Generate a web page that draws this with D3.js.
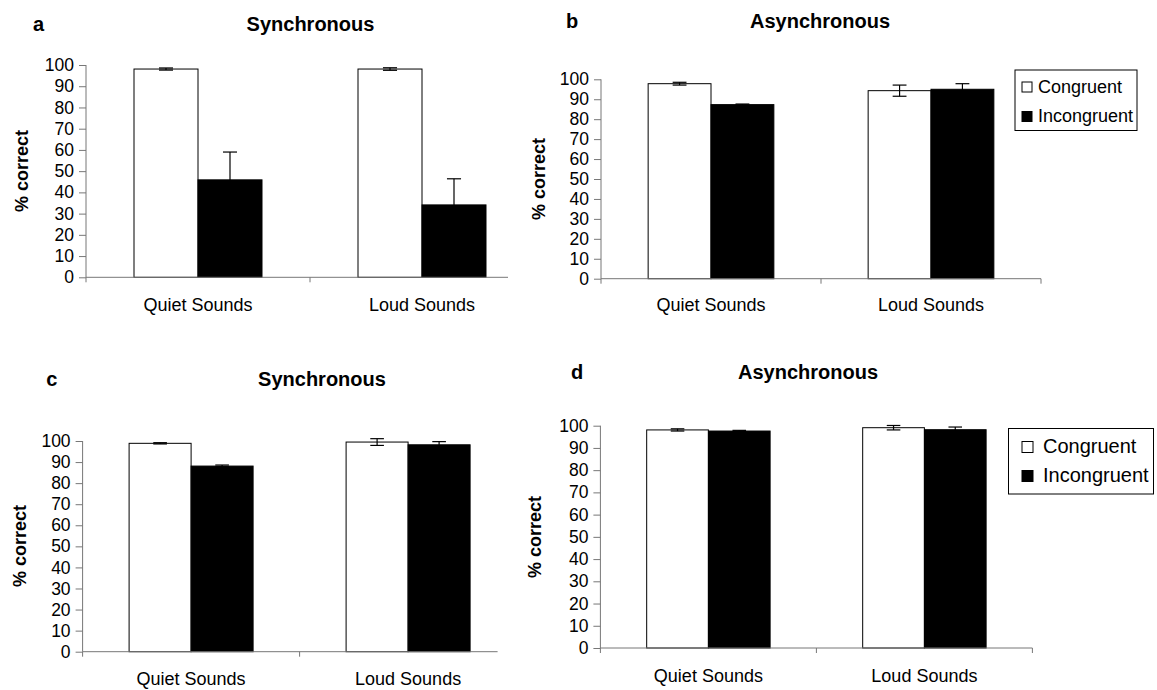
<!DOCTYPE html>
<html>
<head>
<meta charset="utf-8">
<script src="https://cdn.jsdelivr.net/npm/d3@7"></script>
<style>
  html, body { margin: 0; padding: 0; background: #fff; }
  svg { display: block; font-family: "Liberation Sans", Arial, sans-serif; }
</style>
</head>
<body>
<svg id="fig" width="1157" height="690"></svg>
<script>
// ---- data ----
const categories = ["Quiet Sounds", "Loud Sounds"];
const seriesNames = ["Congruent", "Incongruent"];
const yTickValues = [0, 10, 20, 30, 40, 50, 60, 70, 80, 90, 100];
const panelLetters = ["a", "b", "c", "d"];
const panelTitles = ["Synchronous", "Asynchronous", "Synchronous", "Asynchronous"];
const yAxisLabel = "% correct";

// mean % correct per category, and error half-widths
const aCongruent = [98.1, 98.1];
const aCongruentErr = [0.5, 0.6];
const aIncongruent = [45.9, 34.1];
const aIncongruentErr = [13.1, 12.3];

const bCongruent = [97.8, 94.3];
const bCongruentErr = [0.7, 2.8];
const bIncongruent = [87.3, 95.0];
const bIncongruentErr = [0.3, 2.8];

const cCongruent = [98.9, 99.5];
const cCongruentErr = [0.3, 1.6];
const cIncongruent = [88.1, 98.2];
const cIncongruentErr = [0.5, 1.5];

const dCongruent = [98.1, 99.1];
const dCongruentErr = [0.5, 1.0];
const dIncongruent = [97.6, 98.2];
const dIncongruentErr = [0.3, 1.2];

// ---- layout of the four panels ----
const panels = [
  { letter: panelLetters[0], title: panelTitles[0],
    values: [aCongruent, aIncongruent], errs: [aCongruentErr, aIncongruentErr],
    x0: 86, band: 224, axisEnd: 508, endTick: false, yBottom: 277.3, yTop: 65,
    titleX: 310.5, titleY: 31, letterX: 38.6, ylabX: 28, ylabY: 171, xlabY: 311, legend: null },
  { letter: panelLetters[1], title: panelTitles[1],
    values: [bCongruent, bIncongruent], errs: [bCongruentErr, bIncongruentErr],
    x0: 601, band: 220, axisEnd: 1041, endTick: true, yBottom: 278.7, yTop: 79.3,
    titleX: 820, titleY: 28, letterX: 572, ylabX: 545, ylabY: 179, xlabY: 311,
    legend: { x: 1015, y: 70, w: 122, h: 60.5, sq: 10, sqX: 1022, textX: 1038, rows: [92.5, 122], font: 18 } },
  { letter: panelLetters[2], title: panelTitles[2],
    values: [cCongruent, cIncongruent], errs: [cCongruentErr, cIncongruentErr],
    x0: 82.6, band: 217, axisEnd: 497.6, endTick: false, yBottom: 651.7, yTop: 441,
    titleX: 322, titleY: 386, letterX: 51.7, ylabX: 25.5, ylabY: 546, xlabY: 684.5, legend: null },
  { letter: panelLetters[3], title: panelTitles[3],
    values: [dCongruent, dIncongruent], errs: [dCongruentErr, dIncongruentErr],
    x0: 600.4, band: 216, axisEnd: 1032.4, endTick: true, yBottom: 648, yTop: 425.7,
    titleX: 808, titleY: 379, letterX: 577, ylabX: 541, ylabY: 537, xlabY: 681.5,
    legend: { x: 1008.5, y: 428.5, w: 145, h: 65.5, sq: 11, sqX: 1022, textX: 1043, rows: [453, 482], font: 20 } }
];

const fills = ["#ffffff", "#000000"];
const svg = d3.select("#fig");

panels.forEach(p => {
  const g = svg.append("g");

  const x = d3.scaleBand().domain(categories)
    .range([p.x0, p.x0 + 2 * p.band]).paddingInner(0).paddingOuter(0);
  const xs = d3.scaleBand().domain(seriesNames)
    .range([0, x.bandwidth()]).paddingInner(0).paddingOuter(0.75);
  const y = d3.scaleLinear().domain([0, 100]).range([p.yBottom, p.yTop]);

  // bars
  seriesNames.forEach((s, si) => {
    g.selectAll(null).data(categories).enter().append("rect")
      .attr("x", c => x(c) + xs(s))
      .attr("y", (c, ci) => y(p.values[si][ci]))
      .attr("width", xs.bandwidth())
      .attr("height", (c, ci) => y(0) - y(p.values[si][ci]))
      .attr("fill", fills[si])
      .attr("stroke", "#000")
      .attr("stroke-width", 1);
  });

  // error bars
  const cap = xs.bandwidth() * 0.11;
  seriesNames.forEach((s, si) => {
    categories.forEach((c, ci) => {
      const cx = x(c) + xs(s) + xs.bandwidth() / 2;
      const v = p.values[si][ci], e = p.errs[si][ci];
      const hi = y(v + e), lo = y(v - e);
      const eg = g.append("g").attr("stroke", "#000").attr("stroke-width", 1.2);
      eg.append("line").attr("x1", cx).attr("x2", cx).attr("y1", hi).attr("y2", lo);
      eg.append("line").attr("x1", cx - cap).attr("x2", cx + cap).attr("y1", hi).attr("y2", hi);
      eg.append("line").attr("x1", cx - cap).attr("x2", cx + cap).attr("y1", lo).attr("y2", lo);
    });
  });

  // y axis
  const yAxis = d3.axisLeft(y).tickValues(yTickValues).tickSize(7).tickPadding(5).tickFormat(d3.format("d"));
  const ya = g.append("g").attr("transform", `translate(${p.x0},0)`).call(yAxis);
  ya.select(".domain").attr("stroke", "#777").attr("d", `M0,${p.yTop}V${p.yBottom}`);
  ya.selectAll(".tick line").attr("stroke", "#777");
  ya.selectAll(".tick text").attr("font-size", 17.5).attr("fill", "#000")
    .attr("font-family", "'Liberation Sans', Arial, sans-serif");

  // x axis line with category boundary ticks
  g.append("line").attr("x1", p.x0).attr("x2", p.axisEnd)
    .attr("y1", p.yBottom).attr("y2", p.yBottom).attr("stroke", "#777");
  const bounds = [p.x0, p.x0 + p.band];
  if (p.endTick) bounds.push(p.x0 + 2 * p.band);
  g.selectAll(null).data(bounds).enter().append("line")
    .attr("x1", d => d).attr("x2", d => d)
    .attr("y1", p.yBottom).attr("y2", p.yBottom + 5).attr("stroke", "#777");

  // category labels
  g.selectAll(null).data(categories).enter().append("text")
    .attr("x", c => x(c) + x.bandwidth() / 2)
    .attr("y", p.xlabY)
    .attr("text-anchor", "middle").attr("font-size", 18)
    .text(c => c);

  // y axis title
  g.append("text")
    .attr("transform", `translate(${p.ylabX},${p.ylabY}) rotate(-90)`)
    .attr("text-anchor", "middle").attr("font-size", 18).attr("font-weight", "bold")
    .text(yAxisLabel);

  // panel title and letter
  g.append("text").attr("x", p.titleX).attr("y", p.titleY)
    .attr("text-anchor", "middle").attr("font-size", 20).attr("font-weight", "bold")
    .text(p.title);
  g.append("text").attr("x", p.letterX).attr("y", p.titleY)
    .attr("text-anchor", "middle").attr("font-size", 20).attr("font-weight", "bold")
    .text(p.letter);

  // legend
  if (p.legend) {
    const L = p.legend;
    const lg = g.append("g");
    lg.append("rect").attr("x", L.x).attr("y", L.y).attr("width", L.w).attr("height", L.h)
      .attr("fill", "#fff").attr("stroke", "#000").attr("stroke-width", 1);
    seriesNames.forEach((s, si) => {
      lg.append("rect").attr("x", L.sqX).attr("y", L.rows[si] - L.sq - 0.5)
        .attr("width", L.sq).attr("height", L.sq)
        .attr("fill", fills[si]).attr("stroke", "#000").attr("stroke-width", 1);
      lg.append("text").attr("x", L.textX).attr("y", L.rows[si])
        .attr("font-size", L.font).text(s);
    });
  }
});
</script>
</body>
</html>
